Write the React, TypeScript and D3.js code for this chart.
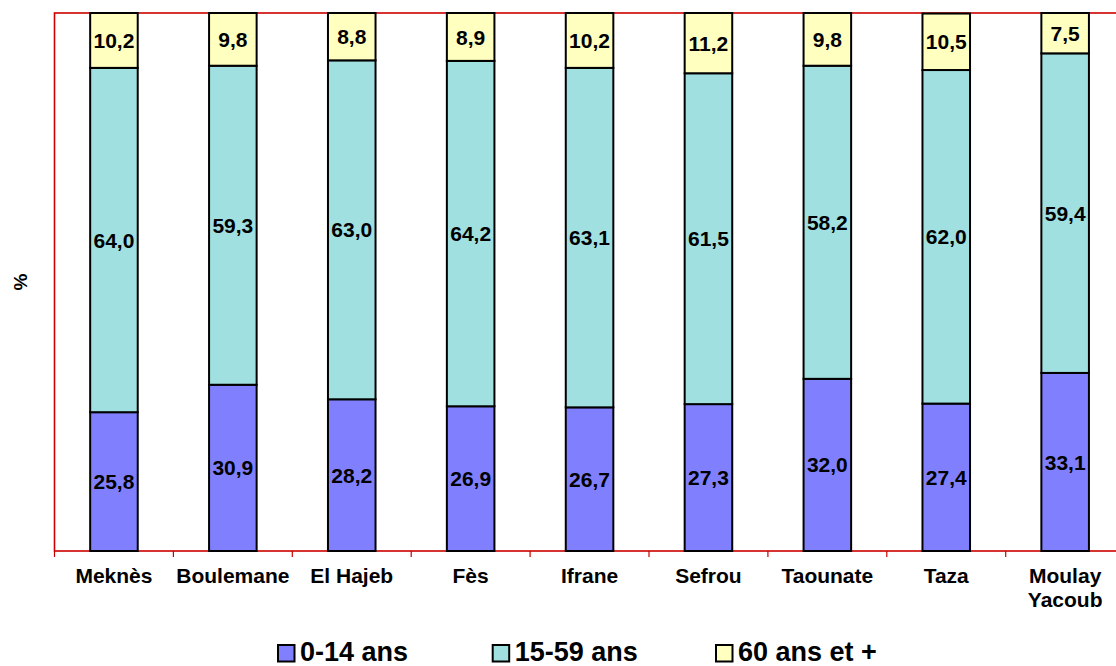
import React from 'react';
import * as d3 from 'd3';

// Répartition de la population par grands groupes d'âge (%)
const categories = ['Meknès', 'Boulemane', 'El Hajeb', 'Fès', 'Ifrane', 'Sefrou', 'Taounate', 'Taza', 'Moulay Yacoub'];
const age0to14 = [25.8, 30.9, 28.2, 26.9, 26.7, 27.3, 32.0, 27.4, 33.1];
const age15to59 = [64.0, 59.3, 63.0, 64.2, 63.1, 61.5, 58.2, 62.0, 59.4];
const age60plus = [10.2, 9.8, 8.8, 8.9, 10.2, 11.2, 9.8, 10.5, 7.5];
const seriesNames = ['0-14 ans', '15-59 ans', '60 ans et +'];
const seriesKeys = ['young', 'adult', 'old'];
const seriesColors = ['#8080ff', '#a0e0e0', '#ffffc0'];
// categories that wrap onto two lines under the axis
const wrappedLabels: Record<string, string[]> = { 'Moulay Yacoub': ['Moulay', 'Yacoub'] };

const width = 1116;
const height = 666;
const margin = { top: 13, left: 54.5, bottom: 551 };
const plotRight = 1124.6;
const font = '"Liberation Sans", Arial, sans-serif';
const axisRed = '#cc0000';
const legendX = [277, 491.7, 715];

const fmt = (v: number) => d3.format('.1f')(v).replace('.', ',');

export default function App() {
  const rows = categories.map((c, i) => ({
    category: c,
    young: age0to14[i],
    adult: age15to59[i],
    old: age60plus[i],
  }));

  const stacked = d3.stack<any>().keys(seriesKeys)(rows);

  const x = d3.scaleBand()
    .domain(categories)
    .range([margin.left, plotRight])
    .paddingInner(0.6)
    .paddingOuter(0.3);

  const y = d3.scaleLinear()
    .domain([0, 100])
    .range([margin.bottom, margin.top]);

  const step = x.step();
  const tickXs = d3.range(categories.length + 1).map(i => margin.left + i * step);

  return (
    <svg
      width={width}
      height={height}
      style={{ position: 'absolute', left: 0, top: 0, background: '#fff' }}
      fontFamily={font}
      fontWeight="bold"
    >
      {/* plot frame */}
      <rect
        x={margin.left}
        y={margin.top}
        width={plotRight - margin.left}
        height={margin.bottom - margin.top}
        fill="none"
        stroke={axisRed}
        strokeWidth={1.6}
      />

      {/* category ticks */}
      {tickXs.map((tx, i) => (
        <line key={i} x1={tx} x2={tx} y1={margin.bottom} y2={margin.bottom + 6} stroke={axisRed} strokeWidth={1.2} />
      ))}

      {/* stacked bars */}
      {stacked.map((layer, si) => (
        <g key={layer.key}>
          {layer.map((d, i) => (
            <rect
              key={i}
              x={x(categories[i])}
              y={y(d[1])}
              width={x.bandwidth()}
              height={y(d[0]) - y(d[1])}
              fill={seriesColors[si]}
              stroke="#000"
              strokeWidth={2}
            />
          ))}
        </g>
      ))}

      {/* value labels */}
      {stacked.map((layer) => (
        <g key={'lbl-' + layer.key}>
          {layer.map((d, i) => (
            <text
              key={i}
              x={(x(categories[i]) || 0) + x.bandwidth() / 2}
              y={(y(d[0]) + y(d[1])) / 2}
              dy="0.36em"
              textAnchor="middle"
              fontSize={21}
              fill="#000"
            >
              {fmt(d[1] - d[0])}
            </text>
          ))}
        </g>
      ))}

      {/* category labels */}
      {categories.map((c) => {
        const lines = wrappedLabels[c] || [c];
        return (
          <text key={c} textAnchor="middle" fontSize={21} fill="#000">
            {lines.map((ln, li) => (
              <tspan key={li} x={(x(c) || 0) + x.bandwidth() / 2} y={583 + li * 24}>{ln}</tspan>
            ))}
          </text>
        );
      })}

      {/* y axis title */}
      <text transform="translate(27,282) rotate(-90)" textAnchor="middle" fontSize={19} fill="#000">%</text>

      {/* legend */}
      {seriesNames.map((name, i) => (
        <g key={name} transform={`translate(${legendX[i]},0)`}>
          <rect x={1} y={645} width={16.5} height={16.5} fill={seriesColors[i]} stroke="#000" strokeWidth={2} />
          <text x={23} y={661} fontSize={27} fill="#000">{name}</text>
        </g>
      ))}
    </svg>
  );
}
